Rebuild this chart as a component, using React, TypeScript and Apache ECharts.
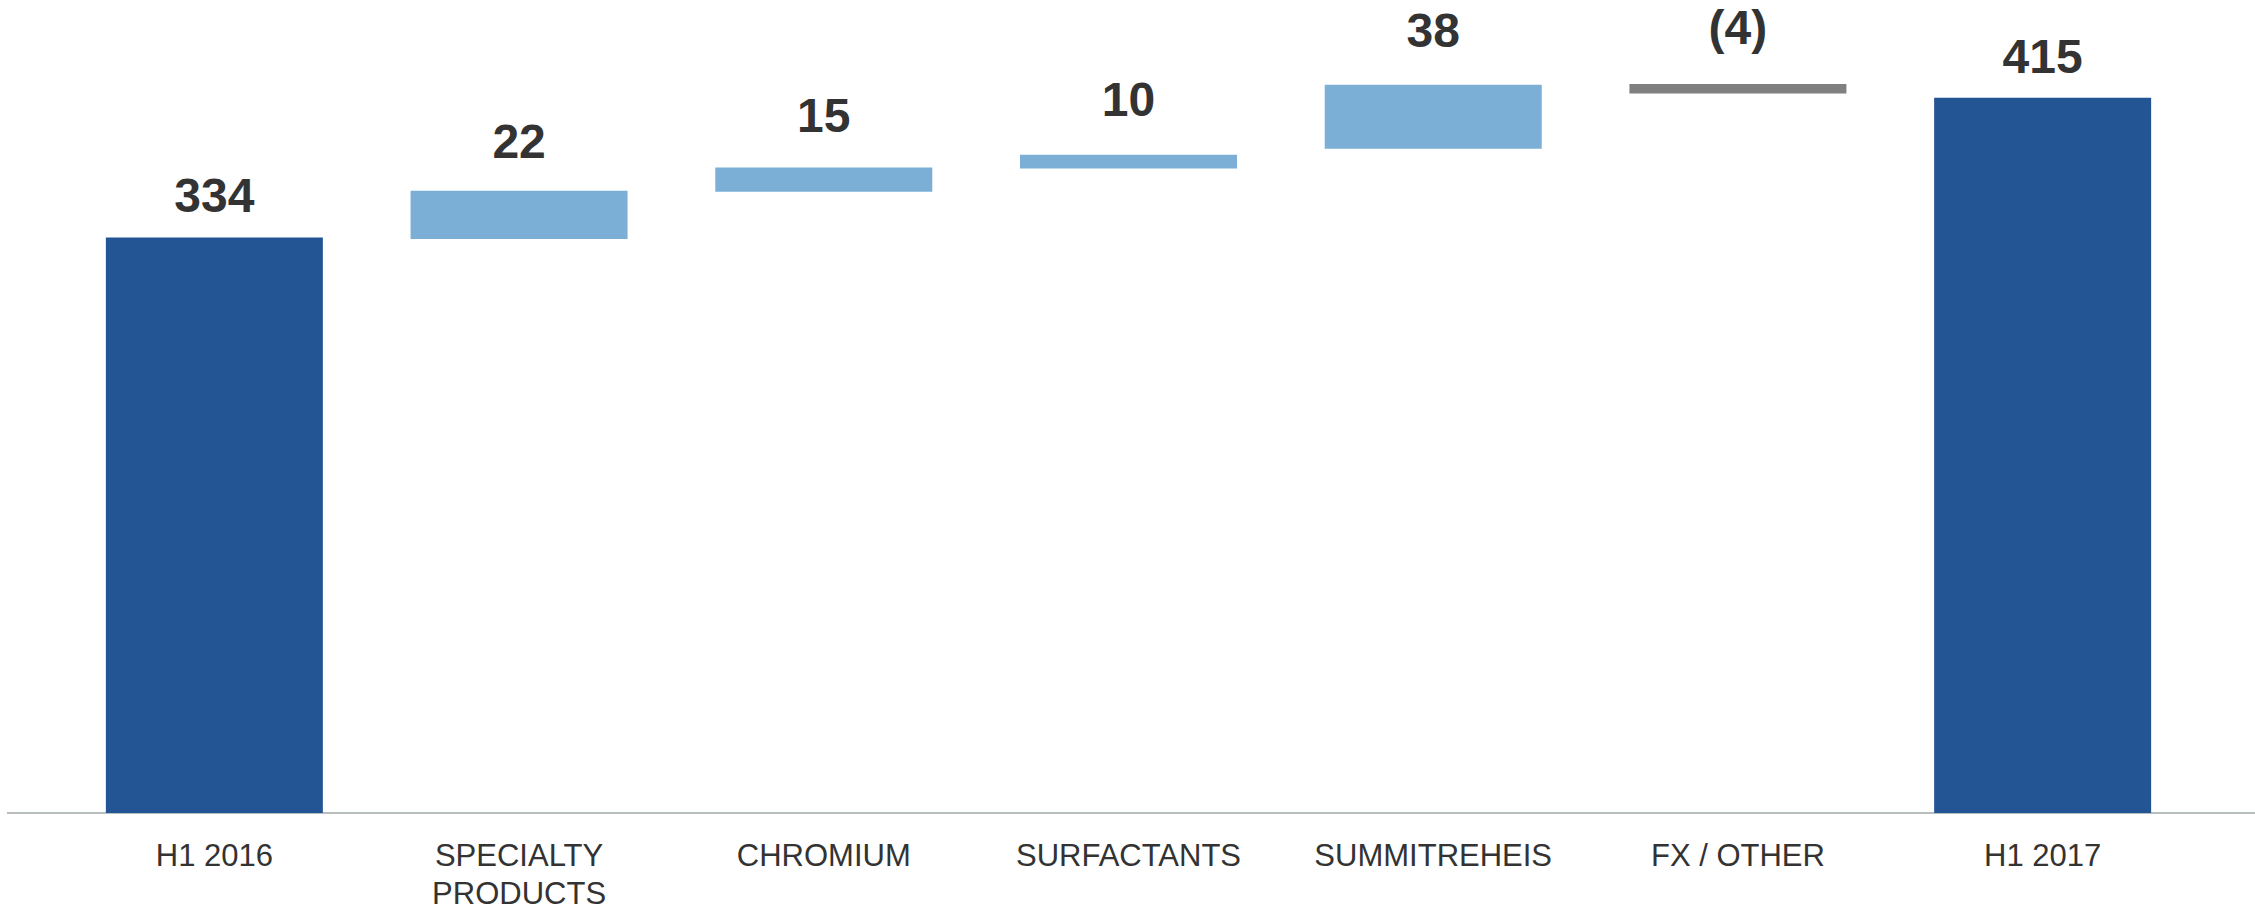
import React, { useEffect, useRef } from "react";
import * as echarts from "echarts";

const categories = [
  "H1 2016",
  "SPECIALTY\nPRODUCTS",
  "CHROMIUM",
  "SURFACTANTS",
  "SUMMITREHEIS",
  "FX / OTHER",
  "H1 2017",
];
// value labels shown above each bar
const valueLabels = ["334", "22", "15", "10", "38", "(4)", "415"];
// bar extents
const barLow = [0, 333, 360.5, 374, 385.5, 417.5, 0];
const barHigh = [334, 361, 374.5, 382, 422.5, 423, 415];
// bar kind: total / increase / decrease
const barKind = ["total", "up", "up", "up", "up", "down", "total"];

const COLORS: Record<string, string> = {
  total: "#235494",
  up: "#7BAFD6",
  down: "#808080",
};
const LABEL_DIST = [18, 25, 28, 31, 30, 33, 17];

const W = 2255;
const H = 913;
const GRID_BOTTOM = 100;

export default function App() {
  const ref = useRef<HTMLDivElement>(null);
  useEffect(() => {
    if (!ref.current) return;
    const chart = echarts.init(ref.current, undefined, { renderer: "svg" });
    const option: any = {
      animation: false,
      backgroundColor: "#ffffff",
      grid: {
        left: 62,
        right: 60,
        top: 3,
        bottom: GRID_BOTTOM,
        containLabel: false,
        outerBoundsMode: "none",
      },
      xAxis: {
        type: "category",
        data: categories,
        axisLine: { show: false },
        axisTick: { show: false },
        axisLabel: {
          interval: 0,
          margin: 23,
          fontFamily: "'Liberation Sans', Arial, sans-serif",
          fontSize: 31,
          lineHeight: 38,
          color: "#333333",
        },
      },
      yAxis: {
        type: "value",
        min: 0,
        max: 470,
        show: false,
        splitLine: { show: false },
      },
      graphic: [
        {
          type: "line",
          z: 0,
          shape: { x1: 7, y1: H - GRID_BOTTOM, x2: W, y2: H - GRID_BOTTOM },
          style: { stroke: "#B8BDBD", lineWidth: 2 },
        },
      ],
      series: [
        {
          type: "bar",
          stack: "wf",
          barWidth: 217,
          silent: true,
          z: 5,
          itemStyle: { color: "transparent" },
          data: barLow,
        },
        {
          type: "bar",
          stack: "wf",
          barWidth: 217,
          z: 5,
          data: barHigh.map((h, i) => ({
            value: h - barLow[i],
            itemStyle: { color: COLORS[barKind[i]] },
            label: { distance: LABEL_DIST[i] },
          })),
          label: {
            show: true,
            position: "top",
            formatter: (p: any) => valueLabels[p.dataIndex],
            fontFamily: "'Liberation Sans Narrow', 'Arial Narrow', 'Liberation Sans', sans-serif",
            fontWeight: "bold",
            fontSize: 48,
            color: "#333333",
          },
        },
      ],
    };
    chart.setOption(option);
    return () => chart.dispose();
  }, []);
  return (
    <div
      ref={ref}
      style={{ position: "fixed", left: 0, top: 0, width: W, height: H, background: "#fff" }}
    />
  );
}
